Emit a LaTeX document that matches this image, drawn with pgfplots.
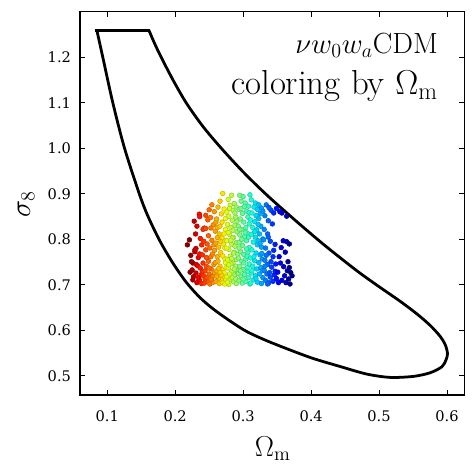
\documentclass[border=0pt]{standalone}
\usepackage{fontspec}
\usepackage{pgfplots}
\pgfplotsset{compat=1.18}
\newfontfamily\djs{DejaVu Serif}
\pgfplotsset{colormap={rjet}{rgb(0pt)=(0.5,0,0) rgb(9pt)=(0.909,0,0) rgb(11pt)=(1,0.074,0) rgb(34pt)=(1,0.926,0) rgb(35pt)=(0.968,0.963,0) rgb(36pt)=(0.935,1,0.032) rgb(62.5pt)=(0.081,1,0.887) rgb(65pt)=(0,0.9,0.968) rgb(66pt)=(0,0.86,1) rgb(87.5pt)=(0,0,1) rgb(89pt)=(0,0,1) rgb(100pt)=(0,0,0.5)}}
\begin{document}
\begin{tikzpicture}
\path[use as bounding box] (-57.6pt,-56.9pt) rectangle (284.4pt,284.4pt);
\begin{axis}[
  at={(0,0)}, anchor=south west,
  scale only axis, width=276.5pt, height=275.8pt,
  xmin=0.06, xmax=0.625, ymin=0.458, ymax=1.30,
  xtick={0.1,0.2,0.3,0.4,0.5,0.6},
  ytick={0.5,0.6,0.7,0.8,0.9,1.0,1.1,1.2},
  tick align=inside, major tick length=3.6pt,
  axis line style={line width=0.75pt},
  every tick/.style={black, line width=0.75pt},
  /pgf/number format/.cd, fixed, precision=1, fixed zerofill, assume math mode=true,
  /pgfplots/.cd,
  tick label style={font=\fontsize{10.5}{12}\djs},
  xticklabel style={yshift=-7.5pt},
  yticklabel style={xshift=-3pt},
  xlabel={$\Omega_{\mathrm{m}}$},
  ylabel={$\sigma_8$},
  label style={font=\fontsize{20}{24}\selectfont},
  xlabel style={at={(axis description cs:0.502,0)}, anchor=base, yshift=-44.4pt},
  ylabel style={at={(axis description cs:-0.1406,0.499)}, anchor=center},
  colormap name=rjet,
]
\addplot[black, line width=2pt, smooth, tension=0.5] coordinates {
(0.1614,1.2596)(0.1698,1.2305)(0.1796,1.2000)(0.1968,1.1505)(0.2165,1.0996)
(0.2410,1.0480)(0.2681,1.0000)(0.3000,0.9484)(0.3344,0.8982)(0.3737,0.8458)
(0.4130,0.7956)(0.4425,0.7600)(0.4720,0.7258)(0.5015,0.6945)(0.5310,0.6640)
(0.5555,0.6364)(0.5752,0.6109)(0.5899,0.5869)(0.5973,0.5687)(0.6007,0.5491)
(0.5983,0.5345)(0.5924,0.5200)(0.5752,0.5069)(0.5506,0.4989)(0.5162,0.4967)
(0.4818,0.5040)(0.4425,0.5207)(0.4032,0.5382)(0.3688,0.5571)(0.3344,0.5775)
(0.3049,0.5978)(0.2803,0.6211)(0.2558,0.6473)(0.2361,0.6727)(0.2165,0.7055)
(0.1968,0.7476)(0.1771,0.7978)(0.1600,0.8509)(0.1477,0.8982)(0.1256,1.0000)
(0.1084,1.0996)(0.0936,1.2000)(0.0848,1.2596)};
\addplot[black, line width=2pt, line cap=rect] coordinates {(0.0848,1.2596)(0.1614,1.2596)};
\addplot[scatter, only marks, mark=*, mark size=1.7pt, point meta=x, point meta min=0.22, point meta max=0.37] coordinates {
(0.221,0.799)(0.228,0.840)(0.2356,0.8555)(0.236,0.850)(0.218,0.788)(0.2306,0.780)(0.229,0.773)(0.226,0.748)(0.231,0.745)(0.233,0.742)
(0.2306,0.726)(0.2356,0.711)(0.226,0.711)(0.224,0.751)(0.229,0.777)(0.239,0.788)(0.234,0.760)(0.222,0.728)(0.227,0.718)(0.232,0.705)
(0.238,0.722)(0.237,0.737)(0.225,0.733)(0.239,0.703)(0.234,0.716)(0.230,0.812)(0.237,0.802)(0.223,0.765)(0.236,0.768)(0.232,0.829)
(0.243,0.825)(0.248,0.843)(0.241,0.822)(0.245,0.824)(0.2526,0.825)(0.254,0.876)(0.250,0.865)(0.245,0.777)(0.240,0.729)(0.242,0.720)
(0.244,0.731)(0.243,0.704)(0.2526,0.762)(0.247,0.790)(0.251,0.781)(0.249,0.752)(0.246,0.741)(0.253,0.735)(0.255,0.718)(0.248,0.709)
(0.251,0.702)(0.256,0.706)(0.244,0.713)(0.250,0.724)(0.257,0.745)(0.246,0.760)(0.254,0.798)(0.249,0.808)(0.256,0.832)(0.242,0.796)
(0.252,0.848)(0.247,0.716)(0.241,0.748)(0.255,0.768)(0.253,0.712)(0.258,0.727)(0.245,0.853)(0.257,0.788)(0.240,0.766)(0.250,0.737)
(0.2576,0.861)(0.260,0.838)(0.262,0.826)(0.259,0.818)(0.261,0.845)(0.263,0.871)(0.266,0.884)(0.270,0.901)(0.268,0.856)(0.272,0.867)
(0.265,0.812)(0.269,0.803)(0.274,0.822)(0.260,0.792)(0.264,0.783)(0.267,0.771)(0.271,0.790)(0.273,0.758)(0.262,0.762)(0.259,0.749)
(0.266,0.741)(0.269,0.733)(0.263,0.722)(0.271,0.716)(0.274,0.709)(0.260,0.707)(0.265,0.703)(0.268,0.712)(0.272,0.727)(0.275,0.738)
(0.261,0.731)(0.264,0.715)(0.270,0.705)(0.273,0.781)(0.267,0.795)(0.262,0.804)(0.274,0.846)(0.269,0.838)(0.266,0.829)(0.272,0.812)
(0.275,0.798)(0.258,0.776)(0.263,0.752)(0.270,0.764)(0.274,0.749)(0.268,0.722)(0.261,0.719)(0.266,0.728)(0.273,0.702)(0.264,0.736)
(0.283,0.897)(0.278,0.888)(0.281,0.875)(0.287,0.879)(0.276,0.860)(0.285,0.864)(0.290,0.871)(0.279,0.851)(0.284,0.842)(0.289,0.849)
(0.277,0.833)(0.282,0.826)(0.288,0.831)(0.291,0.817)(0.280,0.811)(0.286,0.804)(0.276,0.797)(0.283,0.789)(0.290,0.793)(0.279,0.778)
(0.287,0.772)(0.281,0.763)(0.292,0.767)(0.277,0.755)(0.285,0.748)(0.289,0.741)(0.278,0.737)(0.283,0.729)(0.288,0.722)(0.291,0.731)
(0.276,0.718)(0.281,0.712)(0.286,0.707)(0.290,0.703)(0.279,0.701)(0.284,0.716)(0.280,0.724)(0.287,0.735)(0.282,0.746)(0.290,0.756)
(0.276,0.781)(0.284,0.803)(0.288,0.785)(0.278,0.815)(0.285,0.820)(0.291,0.840)(0.280,0.868)(0.277,0.706)(0.289,0.713)(0.283,0.758)
(0.286,0.770)(0.279,0.744)(0.292,0.726)(0.282,0.798)(0.288,0.858)
(0.295,0.897)(0.300,0.894)(0.310,0.898)(0.297,0.884)(0.303,0.880)(0.308,0.873)(0.294,0.866)(0.299,0.857)(0.305,0.862)(0.296,0.845)
(0.301,0.838)(0.307,0.849)(0.293,0.829)(0.298,0.821)(0.304,0.826)(0.309,0.834)(0.295,0.810)(0.302,0.806)(0.306,0.814)(0.294,0.793)
(0.299,0.787)(0.305,0.797)(0.309,0.782)(0.296,0.774)(0.301,0.767)(0.307,0.771)(0.293,0.759)(0.298,0.752)(0.304,0.757)(0.309,0.746)
(0.295,0.741)(0.300,0.734)(0.306,0.738)(0.293,0.725)(0.297,0.719)(0.302,0.723)(0.308,0.716)(0.294,0.709)(0.299,0.704)(0.304,0.708)
(0.310,0.702)(0.296,0.731)(0.301,0.748)(0.305,0.779)(0.298,0.800)(0.303,0.815)(0.307,0.729)(0.294,0.781)(0.300,0.713)(0.306,0.763)
(0.297,0.868)(0.302,0.872)(0.309,0.859)(0.295,0.822)(0.308,0.805)
(0.312,0.887)(0.318,0.880)(0.323,0.876)(0.316,0.871)(0.321,0.866)(0.327,0.869)(0.313,0.858)(0.319,0.852)(0.325,0.857)(0.311,0.843)
(0.317,0.839)(0.323,0.846)(0.314,0.826)(0.320,0.821)(0.326,0.829)(0.312,0.811)(0.318,0.805)(0.324,0.812)(0.329,0.801)(0.315,0.794)
(0.321,0.788)(0.327,0.783)(0.313,0.777)(0.319,0.770)(0.325,0.766)(0.311,0.759)(0.317,0.753)(0.323,0.749)(0.328,0.757)(0.314,0.741)
(0.320,0.735)(0.326,0.738)(0.312,0.726)(0.318,0.720)(0.324,0.724)(0.329,0.716)(0.315,0.711)(0.321,0.706)(0.327,0.703)(0.311,0.704)
(0.3276,0.769)(0.322,0.797)(0.316,0.762)(0.328,0.731)(0.313,0.731)(0.319,0.714)(0.325,0.791)(0.317,0.817)(0.322,0.833)(0.329,0.862)
(0.334,0.876)(0.341,0.864)(0.338,0.870)(0.345,0.858)(0.332,0.852)(0.337,0.841)(0.343,0.834)(0.331,0.822)(0.336,0.812)(0.340,0.796)
(0.347,0.789)(0.333,0.781)(0.338,0.770)(0.344,0.762)(0.332,0.754)(0.336,0.745)(0.342,0.739)(0.348,0.746)(0.331,0.732)(0.335,0.724)
(0.340,0.717)(0.346,0.722)(0.333,0.710)(0.338,0.705)(0.344,0.708)(0.349,0.714)(0.330,0.799)(0.339,0.727)(0.345,0.776)(0.334,0.765)
(0.337,0.805)(0.341,0.751)(0.332,0.741)(0.347,0.730)(0.336,0.702)
(0.354,0.861)(0.364,0.851)(0.357,0.858)(0.349,0.868)(0.364,0.795)(0.359,0.797)(0.368,0.790)(0.356,0.782)(0.362,0.772)(0.353,0.762)
(0.3596,0.740)(0.368,0.738)(0.365,0.731)(0.370,0.727)(0.367,0.713)(0.372,0.720)(0.361,0.720)(0.357,0.710)(0.363,0.705)(0.369,0.702)
(0.351,0.728)(0.355,0.748)(0.366,0.751)(0.352,0.705)};
\node[anchor=base east, font=\fontsize{21}{25}\selectfont] at (rel axis cs:0.9445,0.892) {$\nu w_0 w_a$CDM};
\node[anchor=base east, font=\fontsize{25}{30}\selectfont] at (rel axis cs:0.9445,0.785) {coloring by $\Omega_{\mathrm{m}}$};
\end{axis}
\end{tikzpicture}
\end{document}
